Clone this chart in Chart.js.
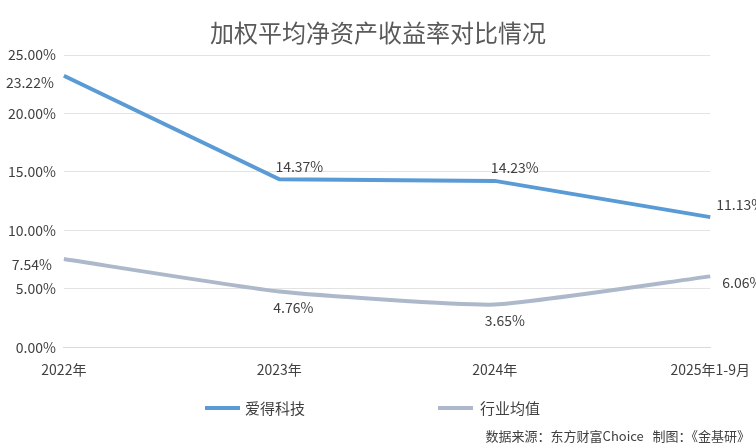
<!DOCTYPE html>
<html><head><meta charset="utf-8">
<script src="https://cdn.jsdelivr.net/npm/chart.js@4"></script>
<style>body{margin:0;background:#fff}#w{width:756px;height:446px;position:relative}</style>
</head><body><div id="w"><canvas id="c" width="756" height="446"></canvas></div>
<script>
const categories=["2022年","2023年","2024年","2025年1-9月"];
const aide=[23.22,14.37,14.23,11.13];
const industry=[7.54,4.76,3.65,6.06];
const seriesNames=["爱得科技","行业均值"];
const title="加权平均净资产收益率对比情况";
const source="数据来源：东方财富Choice   制图：《金基研》";
const F='"Noto Sans CJK SC","Noto Sans",sans-serif';
const labelPos=[["left","right","right","right"],["left","below","below","right"]];
const deco={id:'deco',afterDraw(ch){
 const c=ch.ctx;c.save();
 c.fillStyle='#595959';c.font='24px '+F;c.textAlign='center';c.textBaseline='middle';
 c.fillText(title,378,33);
 c.font='14px '+F;c.fillStyle='#404040';
 [0,1].forEach(d=>{
  const m=ch.getDatasetMeta(d);
  m.data.forEach((p,i)=>{
   const v=ch.data.datasets[d].data[i].toFixed(2)+'%';let x=p.x,y=p.y;
   const pos=labelPos[d][i];
   if(d===0){ if(i===0){x-=34;y+=7;} else {x+=20;y-=13;} if(i===3){x+=10;y=p.y-12;} }
   else { if(i===0){x-=32;y+=6;} else if(pos==='below'){y+=16;if(i===1)x+=14;if(i===2)x+=10;} else {x+=32;y+=6;} }
   c.fillText(v,x,y);
  });
 });
 c.lineWidth=4;c.strokeStyle='#5B9BD5';c.beginPath();c.moveTo(205,408);c.lineTo(240,408);c.stroke();
 c.strokeStyle='#ADB9CA';c.beginPath();c.moveTo(438,408);c.lineTo(473,408);c.stroke();
 c.textAlign='left';c.fillStyle='#404040';c.font='15px '+F;
 c.fillText(seriesNames[0],245,408);c.fillText(seriesNames[1],480,408);
 c.font='13px '+F;c.textAlign='right';c.fillText(source,750,436);
 c.restore();}};
new Chart(document.getElementById('c'),{type:'line',
 data:{labels:categories,datasets:[
  {label:seriesNames[0],data:aide,borderColor:'#5B9BD5',borderWidth:4,pointRadius:0,tension:0},
  {label:seriesNames[1],data:industry,borderColor:'#ADB9CA',borderWidth:4,pointRadius:0,tension:0.15}]},
 options:{responsive:false,animation:false,devicePixelRatio:1,
  layout:{padding:{left:0,right:16,top:55,bottom:62}},
  plugins:{legend:{display:false},tooltip:{enabled:false}},
  scales:{
   x:{grid:{display:false},border:{color:'#D9D9D9'},ticks:{color:'#404040',font:{size:14,family:F},padding:6}},
   y:{min:0,max:25,ticks:{stepSize:5,color:'#404040',font:{size:14,family:F},callback:v=>v.toFixed(2)+'%',padding:8},
      grid:{color:'#E3E3E3',drawTicks:false},border:{display:false}}}},
 plugins:[deco]});
</script></body></html>
